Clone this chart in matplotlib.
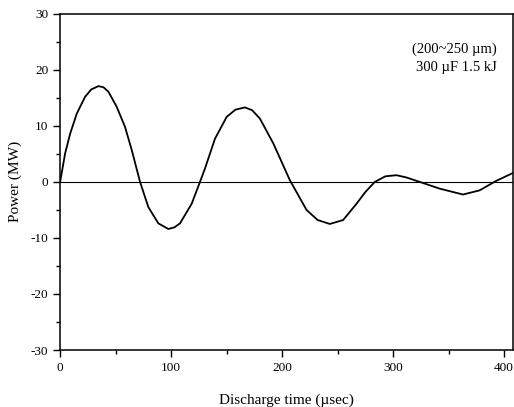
import matplotlib
matplotlib.use("Agg")
import matplotlib.pyplot as plt
from matplotlib.ticker import MultipleLocator

plt.rcParams['font.family'] = ['Liberation Serif', 'DejaVu Serif']
plt.rcParams['axes.unicode_minus'] = False

# Discharge power trace
time_us = [0, 4.5, 9, 15, 22.5, 28, 34.5, 39, 43.5, 51, 58.5, 64.5, 72, 79.5,
           88.5, 97.5, 103, 108, 118.5, 126, 130.5, 139.5, 150, 158, 166.5,
           173, 180, 192, 207, 222, 232, 243, 255, 267, 275, 283.5, 293, 303,
           312, 321, 342, 363, 378, 393, 408]
power_mw = [0, 5.1, 8.6, 12.2, 15.2, 16.5, 17.1, 16.9, 16.1, 13.4, 9.8, 5.7,
            0, -4.5, -7.4, -8.4, -8.1, -7.4, -3.9, 0, 2.4, 7.7, 11.6, 12.9,
            13.3, 12.8, 11.3, 6.9, 0.3, -5.0, -6.8, -7.5, -6.8, -3.9, -1.8,
            0, 1.0, 1.2, 0.8, 0.2, -1.2, -2.25, -1.5, 0.2, 1.6]

fig = plt.figure(figsize=(5.14, 4.07), dpi=100)
ax = fig.add_axes([0.117, 0.14, 0.881, 0.826])

ax.plot(time_us, power_mw, color='black', lw=1.3)
ax.axhline(0, color='black', lw=0.8)

ax.set_xlim(0, 408)
ax.set_ylim(-30, 30)
ax.xaxis.set_major_locator(MultipleLocator(100))
ax.xaxis.set_minor_locator(MultipleLocator(50))
ax.yaxis.set_major_locator(MultipleLocator(10))
ax.yaxis.set_minor_locator(MultipleLocator(5))
ax.tick_params(which='both', direction='out', top=False, right=False,
               labelsize=9.5, width=1)
ax.tick_params(which='major', length=5)
ax.tick_params(which='minor', length=3)
for s in ax.spines.values():
    s.set_linewidth(1.1)

ax.set_xlabel('Discharge time (\u00b5sec)', fontsize=11, labelpad=14)
ax.set_ylabel('Power (MW)', fontsize=11, labelpad=6)

ax.text(0.965, 0.915, '(200~250 \u00b5m)\n300 \u00b5F 1.5 kJ', transform=ax.transAxes,
        ha='right', va='top', fontsize=10.5, linespacing=1.5)

fig.savefig('out.png', dpi=100)
